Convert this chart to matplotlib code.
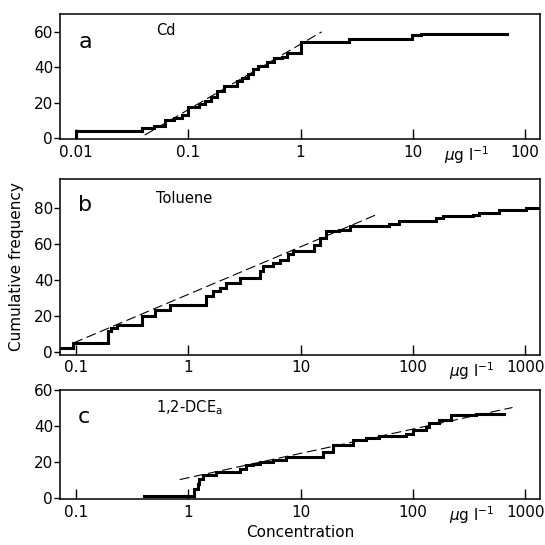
import matplotlib
matplotlib.use('Agg')
import matplotlib.pyplot as plt
from matplotlib.ticker import FixedLocator, NullLocator

# panel a: Cd
a_x = [0.01, 0.01, 0.039, 0.05, 0.062, 0.075, 0.088, 0.1, 0.125, 0.14, 0.16, 0.18,
       0.21, 0.27, 0.3, 0.34, 0.38, 0.42, 0.5, 0.58, 0.68, 0.75, 1.0, 2.7, 9.9, 11.9, 69]
a_y = [0, 4, 5.5, 7, 10, 11.5, 13, 17.5, 19, 21, 23, 26.5,
       29.5, 32, 34, 36, 39, 41, 43, 45, 46, 48, 54.5, 56, 58, 59, 59]
a_fit_x = [0.041, 1.54]
a_fit_y = [1.7, 60]

# panel b: Toluene
b_x = [0.0706, 0.0946, 0.194, 0.207, 0.23, 0.384, 0.504, 0.685, 1.45, 1.66, 1.91,
       2.19, 2.87, 4.32, 4.63, 5.68, 6.5, 7.7, 8.55, 13.3, 14.8, 16.9, 22.2, 27.3,
       61.9, 75.9, 161, 184, 340, 390, 588, 1014, 1360]
b_y = [2.2, 5, 11.3, 13.3, 15, 19.6, 23, 25.7, 30.7, 33.5, 35.4,
       38.2, 41, 44.6, 47.4, 49.3, 51, 54, 55.7, 59.4, 63, 66.9, 67.8, 69.6,
       71, 72.4, 74.3, 75.2, 76, 77, 78.9, 79.8, 79.8]
b_fit_x = [0.0946, 47.1]
b_fit_y = [4.8, 76]

# panel c: 1,2-DCE
c_x = [0.4, 1.12, 1.22, 1.26, 1.35, 1.78, 2.87, 3.29, 3.77, 4.32, 5.68, 7.47,
       15.8, 19.4, 29.2, 38.4, 50.4, 87, 99.6, 131, 140, 172, 219, 365, 650]
c_y = [1.1, 5.4, 8.1, 10.9, 12.8, 14.6, 16.5, 18.3, 19.3, 20.2, 21.1, 22.8,
       25.7, 29.4, 32.2, 33.7, 34.4, 35.9, 38.1, 39.6, 41.9, 43.3, 46.1, 47, 47]
c_fit_x = [0.84, 771]
c_fit_y = [10.4, 50.4]

a_ticks = [0.01, 0.1, 1, 10, 100]
a_labels = ['0.01', '0.1', '1', '10', '100']
bc_ticks = [0.1, 1, 10, 100, 1000]
bc_labels = ['0.1', '1', '10', '100', '1000']

plt.rcParams['font.family'] = 'DejaVu Sans'
fig = plt.figure(figsize=(5.45, 5.45), dpi=100)

ax_a = fig.add_axes([0.110, 0.745, 0.881, 0.229])
ax_b = fig.add_axes([0.110, 0.349, 0.881, 0.323])
ax_c = fig.add_axes([0.110, 0.084, 0.881, 0.200])

panels = [
    (ax_a, a_x, a_y, a_fit_x, a_fit_y, a_ticks, a_labels, (0.00721, 135.8), (-0.5, 70), [0, 20, 40, 60], 'a', 0.78, 'Cd'),
    (ax_b, b_x, b_y, b_fit_x, b_fit_y, bc_ticks, bc_labels, (0.0721, 1358), (-1.7, 96), [0, 20, 40, 60, 80], 'b', 0.85, 'Toluene'),
    (ax_c, c_x, c_y, c_fit_x, c_fit_y, bc_ticks, bc_labels, (0.0721, 1358), (-0.5, 60), [0, 20, 40, 60], 'c', 0.75, '1,2-DCE$_{\\mathrm{a}}$'),
]

for ax, x, y, fx, fy, ticks, labels, xlim, ylim, yticks, letter, ly, name in panels:
    ax.plot(x, y, drawstyle='steps-post', color='black', linewidth=2.2, solid_joinstyle='miter')
    ax.plot(fx, fy, color='black', linewidth=0.8, dashes=(9, 4))
    ax.set_xscale('log')
    ax.set_xlim(*xlim)
    ax.set_ylim(*ylim)
    ax.xaxis.set_major_locator(FixedLocator(ticks))
    ax.xaxis.set_minor_locator(NullLocator())
    ax.set_xticklabels(labels)
    ax.set_yticks(yticks)
    ax.tick_params(axis='x', direction='in', length=7, width=1, labelsize=11, pad=4)
    ax.tick_params(axis='y', direction='out', length=4, width=1, labelsize=11, pad=1)
    for s in ax.spines.values():
        s.set_linewidth(1.1)
    ax.text(0.038, ly, letter, transform=ax.transAxes, fontsize=16, va='center', ha='left')
    ax.text(0.2, 0.93, name, transform=ax.transAxes, fontsize=10.5, va='top', ha='left')

# unit labels next to last tick label
ax_a.text(0.895, -0.045, '$\\mu$g l$^{-1}$', transform=ax_a.transAxes, fontsize=11,
          ha='right', va='top')
ax_b.text(0.905, -0.03, '$\\mu$g l$^{-1}$', transform=ax_b.transAxes, fontsize=11,
          ha='right', va='top')
ax_c.text(0.905, -0.05, '$\\mu$g l$^{-1}$', transform=ax_c.transAxes, fontsize=11,
          ha='right', va='top')

ax_b.set_ylabel('Cumulative frequency', fontsize=11, labelpad=7)
ax_c.set_xlabel('Concentration', fontsize=11, labelpad=4)

fig.savefig('out.png', dpi=100)
